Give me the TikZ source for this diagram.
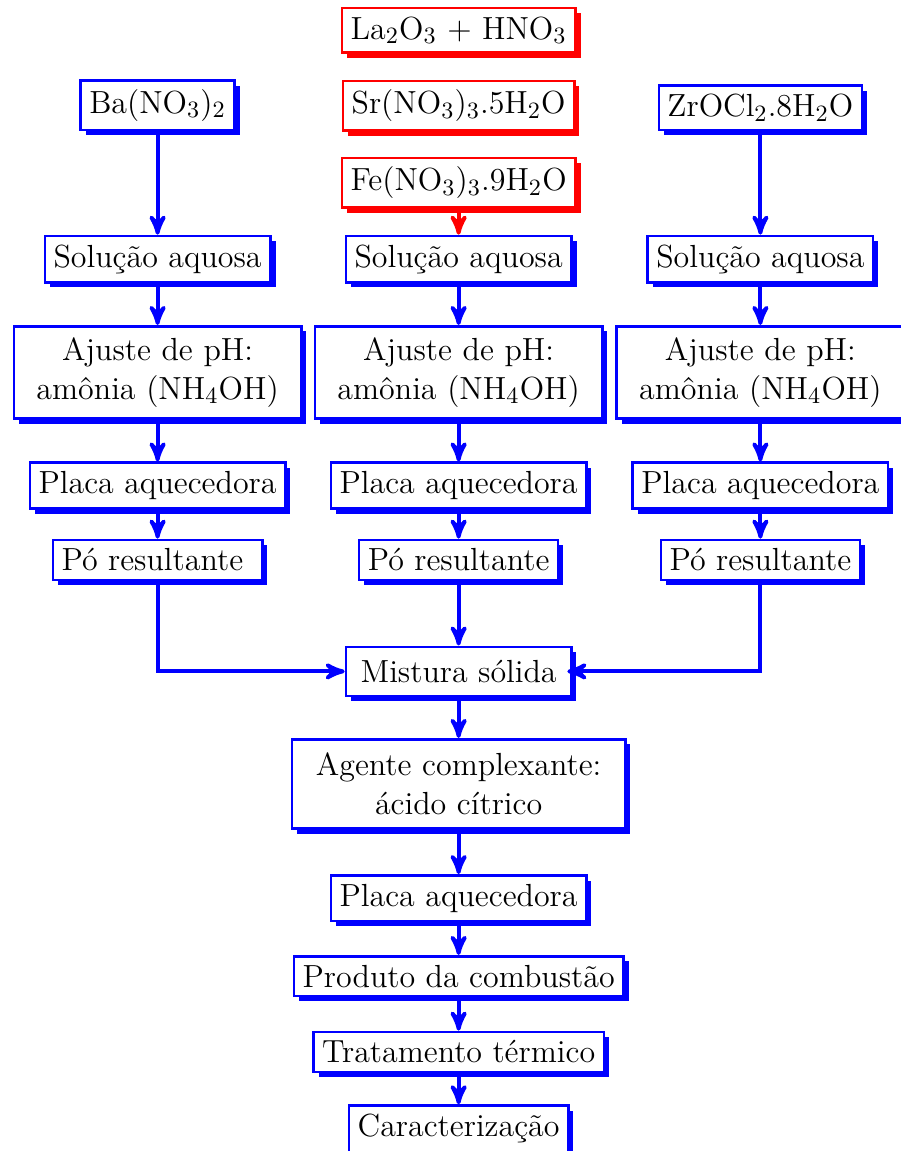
\documentclass[tikz,border=0pt]{standalone}
\usepackage{fontspec}
\usepackage{tikz}
\usetikzlibrary{arrows, positioning, shadows}
\tikzset{
  chembox/.style={rectangle,draw=#1,line width=1pt,fill=white,
    font=\fontsize{12.3pt}{14.8pt}\selectfont,
    drop shadow={shadow xshift=2pt,shadow yshift=-2pt,fill=#1,opacity=1}},
  chembox/.default=blue,
  phbox/.style={chembox,text width=36.5mm,align=center,minimum height=12.5mm},
  flowarrow/.style={-stealth', line width=1.5pt, color=blue},
  redarrow/.style={flowarrow, color=red}
}

\begin{document}
\begin{tikzpicture}
  \useasboundingbox (0,0) rectangle (12.17,-15.56);
  % reagentes (coluna central)
  \node[chembox=red] (la) at (6.2,-0.41) {La$_2$O$_3$ + HNO$_3$};
  \node[chembox=red, below=3.5mm of la] (sr) {Sr(NO$_3$)$_3$.5H$_2$O};
  \node[chembox=red, below=3.4mm of sr] (fe) {Fe(NO$_3$)$_3$.9H$_2$O};
  \node[chembox, below=3.5mm of fe] (solM) {Solução aquosa};
  \node[phbox, below=5.6mm of solM] (ajM) {Ajuste de pH:\\ amônia (NH$_4$OH)};
  \node[chembox, below=5.6mm of ajM] (plM) {Placa aquecedora};
  \node[chembox, below=3.9mm of plM] (poM) {Pó resultante};
  % coluna esquerda
  \node[phbox, left=1.5mm of ajM] (ajL) {Ajuste de pH:\\ amônia (NH$_4$OH)};
  \node[chembox, above=5.6mm of ajL] (solL) {Solução aquosa};
  \node[chembox, above=14mm of solL] (ba) {Ba(NO$_3$)$_2$};
  \node[chembox, below=5.6mm of ajL] (plL) {Placa aquecedora};
  \node[chembox, below=3.9mm of plL] (poL) {Pó resultante\ \null};
  % coluna direita
  \node[phbox, right=1.6mm of ajM] (ajR) {Ajuste de pH:\\ amônia (NH$_4$OH)};
  \node[chembox, above=5.6mm of ajR] (solR) {Solução aquosa};
  \node[chembox, above=14mm of solR] (zr) {ZrOCl$_2$.8H$_2$O};
  \node[chembox, below=5.6mm of ajR] (plR) {Placa aquecedora};
  \node[chembox, below=3.9mm of plR] (poR) {Pó resultante};
  % mistura e etapas finais
  \node[chembox, inner xsep=5.6pt, inner ysep=5.1pt, below=8.7mm of poM] (mist) {Mistura sólida};
  \node[chembox, text width=42.7mm, align=center, minimum height=12.05mm,
    below=5.5mm of mist] (agente) {Agente complexante:\\ ácido cítrico};
  \node[chembox, below=6mm of agente] (plB) {Placa aquecedora};
  \node[chembox, below=4.4mm of plB] (prod) {Produto da combustão};
  \node[chembox, below=4.5mm of prod] (trat) {Tratamento térmico};
  \node[chembox, below=4.2mm of trat] (carac) {Caracterização};

  \draw[redarrow] (fe) -- (solM);
  \draw[flowarrow] (ba) -- (solL);
  \draw[flowarrow] (zr) -- (solR);
  \foreach \c in {L,M,R} {
    \draw[flowarrow] (sol\c) -- (aj\c);
    \draw[flowarrow] (aj\c) -- (pl\c);
    \draw[flowarrow] (pl\c) -- (po\c);
  }
  \draw[flowarrow] (poL) |- (mist);
  \draw[flowarrow, shorten >=-2pt] (poR) |- (mist);
  \draw[flowarrow] (poM) -- (mist);
  \draw[flowarrow] (mist) -- (agente);
  \draw[flowarrow] (agente) -- (plB);
  \draw[flowarrow] (plB) -- (prod);
  \draw[flowarrow] (prod) -- (trat);
  \draw[flowarrow] (trat) -- (carac);
\end{tikzpicture}
\end{document}
